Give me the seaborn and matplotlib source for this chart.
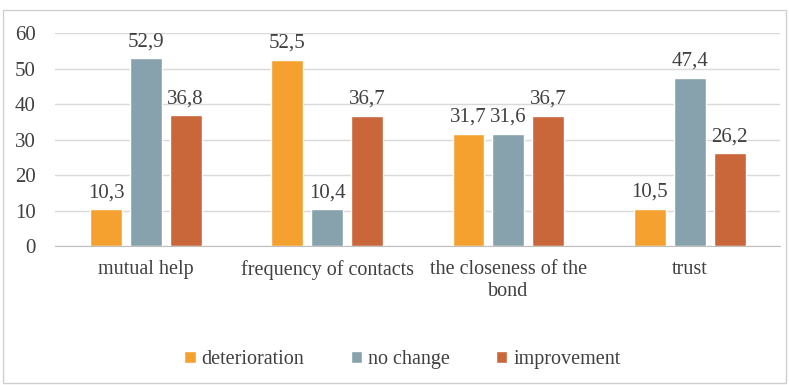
import pandas as pd
import matplotlib.pyplot as plt
import seaborn as sns
from matplotlib.patches import Rectangle

categories = ["mutual help", "frequency of contacts", "the closeness of the\nbond", "trust"]
series = ["deterioration", "no change", "improvement"]
deterioration = [10.3, 52.5, 31.7, 10.5]
no_change = [52.9, 10.4, 31.6, 47.4]
improvement = [36.8, 36.7, 36.7, 26.2]
colors = ["#F5A12F", "#87A2AD", "#C9663A"]

rows = []
for s, vals in zip(series, [deterioration, no_change, improvement]):
    for c, v in zip(categories, vals):
        rows.append({"category": c, "series": s, "value": v})
df = pd.DataFrame(rows)

sns.set_style("white")
plt.rcParams["font.family"] = ["Liberation Serif", "DejaVu Serif"]
text_col = "#404040"

fig = plt.figure(figsize=(7.89, 3.85), dpi=100)
ax = fig.add_axes([0.07, 0.361, 0.919, 0.553])

sns.barplot(data=df, x="category", y="value", hue="series", order=categories,
            hue_order=series, palette=colors, width=0.66, gap=0.2,
            saturation=1, ax=ax, legend=True)

for cont in ax.containers:
    labels = [f"{v:.1f}".replace(".", ",") for v in cont.datavalues]
    ax.bar_label(cont, labels=labels, padding=5, fontsize=15, color=text_col)

ax.set_ylim(0, 60)
ax.set_yticks(range(0, 61, 10))
ax.set_xlim(-0.5, 3.5)
ax.grid(axis="y", color="#D9D9D9", linewidth=1)
ax.set_axisbelow(True)
for sp in ["left", "right", "top"]:
    ax.spines[sp].set_visible(False)
ax.spines["bottom"].set_color("#BFBFBF")
ax.tick_params(axis="both", length=0, colors=text_col)
ax.tick_params(axis="y", labelsize=15, pad=14)
ax.tick_params(axis="x", labelsize=14.5, pad=10)
ax.set_xlabel("")
ax.set_ylabel("")

ax.legend(loc="center", ncol=3, frameon=False, fontsize=14.5,
          handlelength=0.55, handleheight=0.55, handletextpad=0.3,
          columnspacing=2.3, labelcolor=text_col)
leg = ax.get_legend()
leg.set_bbox_to_anchor((0.51, 0.065), transform=fig.transFigure)

fig.patches.append(Rectangle((0.004, 0.005), 0.992, 0.97, transform=fig.transFigure,
                             fill=False, edgecolor="#D0D0D0", linewidth=1))

fig.savefig("out.png", dpi=100)
